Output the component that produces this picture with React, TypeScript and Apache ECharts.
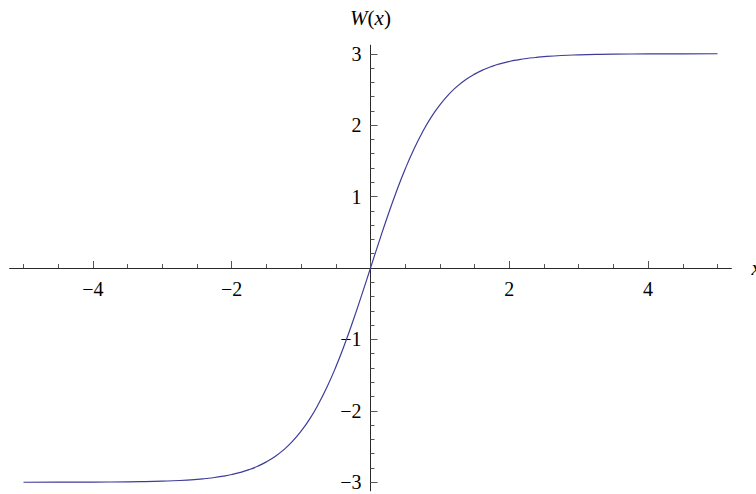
import React, { useEffect, useRef } from "react";
import * as echarts from "echarts";

// Sample points of the curve W(x)
const xValues = [
  -5, -4.5, -4, -3.5, -3.25, -3, -2.75, -2.5, -2.375, -2.25, -2.125, -2,
  -1.875, -1.75, -1.625, -1.5, -1.375, -1.25, -1.125, -1, -0.875, -0.75,
  -0.625, -0.5, -0.375, -0.25, -0.125, 0, 0.125, 0.25, 0.375, 0.5, 0.625,
  0.75, 0.875, 1, 1.125, 1.25, 1.375, 1.5, 1.625, 1.75, 1.875, 2, 2.125,
  2.25, 2.375, 2.5, 2.75, 3, 3.25, 3.5, 4, 4.5, 5,
];
const wValues = [
  -3.0, -2.999, -2.998, -2.995, -2.991, -2.985, -2.976, -2.96, -2.948, -2.934,
  -2.915, -2.892, -2.862, -2.824, -2.776, -2.715, -2.64, -2.545, -2.429,
  -2.285, -2.113, -1.905, -1.664, -1.386, -1.075, -0.735, -0.373, 0, 0.373,
  0.735, 1.075, 1.386, 1.664, 1.905, 2.113, 2.285, 2.429, 2.545, 2.64, 2.715,
  2.776, 2.824, 2.862, 2.892, 2.915, 2.934, 2.948, 2.96, 2.976, 2.985, 2.991,
  2.995, 2.998, 2.999, 3.0,
];

// Axis ticks and labels
const xMajorTicks = [-4, -2, 0, 2, 4];
const xMinorTicks = [-5, -4.5, -3.5, -3, -2.5, -1.5, -1, -0.5, 0.5, 1, 1.5, 2.5, 3, 3.5, 4.5, 5];
const xLabels = [-4, -2, 2, 4];
const yMajorTicks = [-3, -2, -1, 1, 2, 3];
const yMinorTicks = [
  -2.8, -2.6, -2.4, -2.2, -1.8, -1.6, -1.4, -1.2, -0.8, -0.6, -0.4, -0.2,
  0.2, 0.4, 0.6, 0.8, 1.2, 1.4, 1.6, 1.8, 2.2, 2.4, 2.6, 2.8,
];
const yLabels = [-3, -2, -1, 1, 2, 3];

const X_RANGE = [-5.2, 5.2];
const Y_RANGE = [-3.12, 3.12];

const SERIF = "Liberation Serif, serif";
const AXIS_COLOR = "#2a2a2a";
const TICK_COLOR = "#555";

// Plot area in page pixels
const GRID = { left: 9.6, top: 45.2, width: 721.8, height: 445.6 };

const fmt = (v: number) => String(v).replace("-", "\u2212");

export default function App() {
  const ref = useRef<HTMLDivElement>(null);

  useEffect(() => {
    if (!ref.current) return;
    const chart = echarts.init(ref.current, null, { renderer: "svg" });

    // Axes cross at the origin: shift them inward from the grid edges.
    const xOffset = -(GRID.height * (Y_RANGE[0] / (Y_RANGE[0] - Y_RANGE[1])));
    const yOffset = -(GRID.width * (X_RANGE[0] / (X_RANGE[0] - X_RANGE[1])));

    const xBase = {
      type: "value" as const,
      min: X_RANGE[0],
      max: X_RANGE[1],
      position: "bottom" as const,
      offset: xOffset,
      splitLine: { show: false },
    };
    const yBase = {
      type: "value" as const,
      min: Y_RANGE[0],
      max: Y_RANGE[1],
      position: "left" as const,
      offset: yOffset,
      splitLine: { show: false },
    };
    const labelStyle = {
      color: "#000",
      fontFamily: SERIF,
      fontSize: 20,
    };
    const nameStyle = { ...labelStyle, fontSize: 21 };

    chart.setOption({
      animation: false,
      backgroundColor: "#fff",
      textStyle: { fontFamily: SERIF },
      grid: {
        ...GRID,
        containLabel: false,
        outerBoundsMode: "none",
      },
      xAxis: [
        {
          ...xBase,
          name: "{i|x}",
          nameLocation: "end",
          nameGap: 20,
          nameTextStyle: {
            ...nameStyle,
            verticalAlign: "middle",
            rich: { i: { ...nameStyle, fontStyle: "italic" } },
          },
          axisLine: { show: true, onZero: false, lineStyle: { color: AXIS_COLOR, width: 1 } },
          axisTick: { show: true, inside: true, length: 7, customValues: xMajorTicks, lineStyle: { color: TICK_COLOR, width: 1 } },
          axisLabel: {
            ...labelStyle,
            show: true,
            customValues: xLabels,
            formatter: (v: number) => fmt(v),
            margin: 11,
          },
        },
        {
          ...xBase,
          axisLine: { show: false, onZero: false },
          axisTick: { show: true, inside: true, length: 4, customValues: xMinorTicks, lineStyle: { color: TICK_COLOR, width: 1 } },
          axisLabel: { show: false },
        },
      ],
      yAxis: [
        {
          ...yBase,
          name: "{i|W}({i|x})",
          nameLocation: "end",
          nameGap: 17,
          nameTextStyle: {
            ...nameStyle,
            align: "center",
            rich: { i: { ...nameStyle, fontStyle: "italic" } },
          },
          axisLine: { show: true, onZero: false, lineStyle: { color: AXIS_COLOR, width: 1 } },
          axisTick: { show: true, inside: true, length: 7, customValues: yMajorTicks, lineStyle: { color: TICK_COLOR, width: 1 } },
          axisLabel: {
            ...labelStyle,
            show: true,
            customValues: yLabels,
            formatter: (v: number) => fmt(v),
            margin: 9,
          },
        },
        {
          ...yBase,
          axisLine: { show: false, onZero: false },
          axisTick: { show: true, inside: true, length: 4, customValues: yMinorTicks, lineStyle: { color: TICK_COLOR, width: 1 } },
          axisLabel: { show: false },
        },
      ],
      series: [
        {
          type: "line",
          xAxisIndex: 0,
          yAxisIndex: 0,
          data: xValues.map((x, i) => [x, wValues[i]]),
          showSymbol: false,
          smooth: 0.5,
          lineStyle: { color: "#3d3d99", width: 1.2 },
          z: 5,
        },
      ],
    });

    return () => chart.dispose();
  }, []);

  return (
    <div
      ref={ref}
      style={{ position: "fixed", left: 0, top: 0, width: 756, height: 494 }}
    />
  );
}
